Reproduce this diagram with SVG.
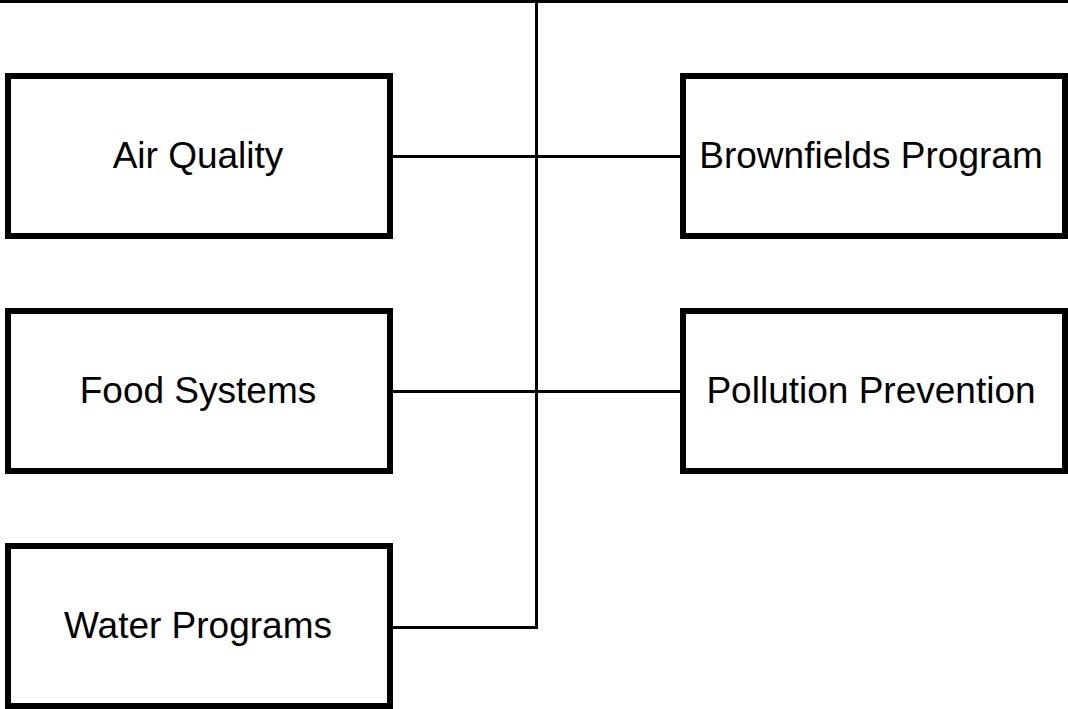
<svg xmlns="http://www.w3.org/2000/svg" width="1068" height="709" viewBox="0 0 1068 709">
  <style>
    .box { fill: #ffffff; stroke: #000000; stroke-width: 6; }
    .label { font-family: "Liberation Sans", Arial, sans-serif; font-size: 37px; fill: #000000; text-anchor: middle; }
    .wire { fill: none; stroke: #000000; stroke-width: 3; }
  </style>
  <rect x="0" y="0" width="1068" height="709" fill="#ffffff"/>

  <!-- connectors: top bus, vertical trunk, and branches to each box -->
  <g id="connectors">
    <line class="wire" x1="0" y1="1.5" x2="1068" y2="1.5"/>
    <polyline class="wire" points="536.5,0 536.5,627.5 393,627.5"/>
    <line class="wire" x1="393" y1="156.5" x2="680" y2="156.5"/>
    <line class="wire" x1="393" y1="391.5" x2="680" y2="391.5"/>
  </g>

  <g id="air-quality">
    <rect class="box" x="8" y="76" width="382" height="160"/>
    <text class="label" x="198" y="168">Air Quality</text>
  </g>
  <g id="brownfields-program">
    <rect class="box" x="683" y="76" width="382" height="160"/>
    <text class="label" x="871" y="168">Brownfields Program</text>
  </g>
  <g id="food-systems">
    <rect class="box" x="8" y="311" width="382" height="160"/>
    <text class="label" x="198" y="403">Food Systems</text>
  </g>
  <g id="pollution-prevention">
    <rect class="box" x="683" y="311" width="382" height="160"/>
    <text class="label" x="871" y="403">Pollution Prevention</text>
  </g>
  <g id="water-programs">
    <rect class="box" x="8" y="546" width="382" height="160"/>
    <text class="label" x="198" y="638">Water Programs</text>
  </g>
</svg>
